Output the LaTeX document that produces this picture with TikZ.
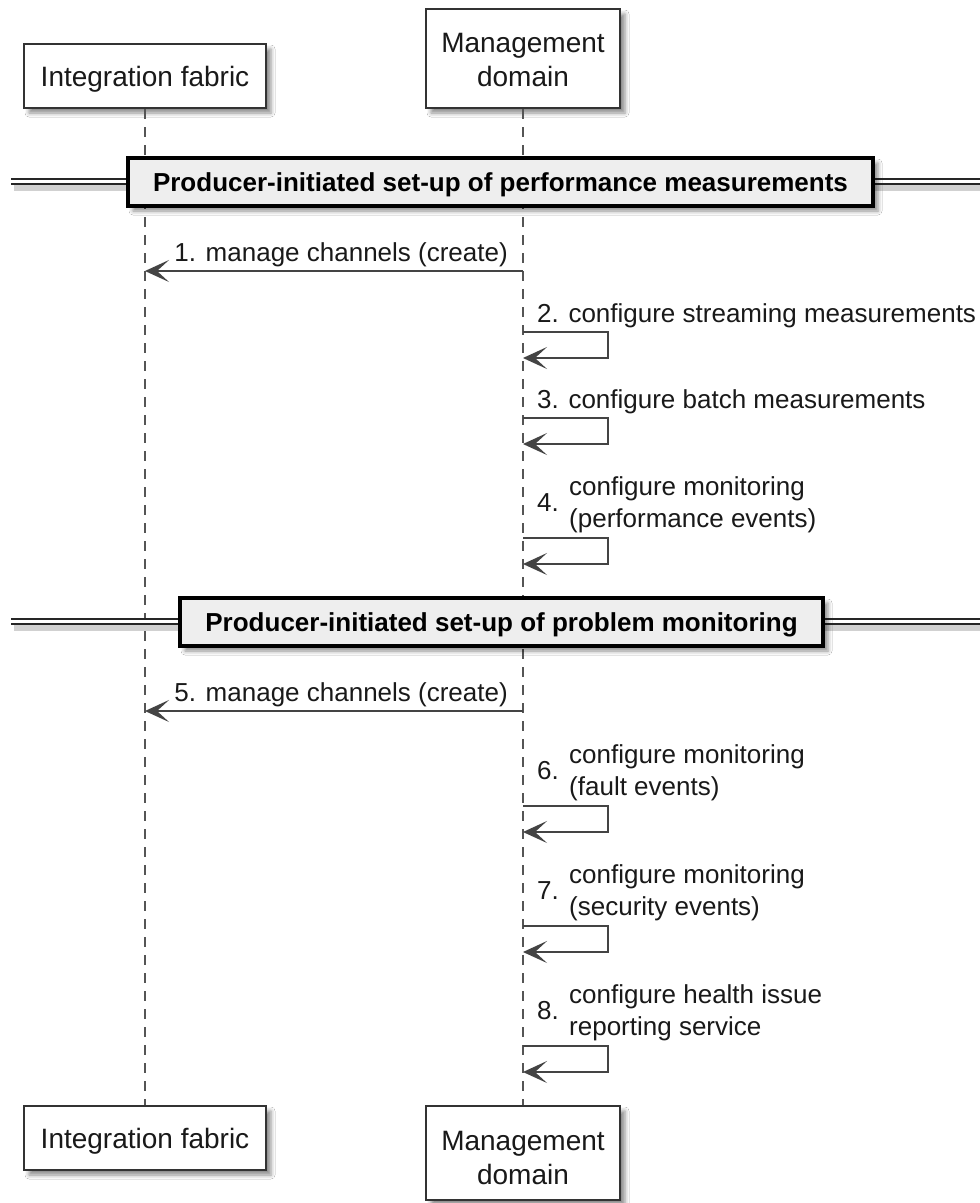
\documentclass[tikz,border=0pt]{standalone}
\usepackage{fontspec}
\setmainfont{Liberation Sans}
\usetikzlibrary{arrows.meta,shadows.blur}
\definecolor{boxline}{HTML}{333333}
\definecolor{arrowc}{HTML}{444444}
\definecolor{lifec}{HTML}{555555}
\definecolor{divfill}{HTML}{EEEEEE}
\tikzset{
  boxshadow/.style={blur shadow={shadow xshift=5pt, shadow yshift=-5pt, shadow blur radius=4pt, shadow opacity=45}},
  partbox/.style={draw=boxline, line width=2.5pt, fill=white, rectangle, inner sep=0pt, boxshadow},
  ptext/.style={font=\fontsize{28}{34}\selectfont, inner sep=0pt, anchor=base, text=black!90},
  mtext/.style={font=\fontsize{26}{32}\selectfont, inner sep=0pt, anchor=base west, text=black!90},
  divbox/.style={draw=black, line width=3.5pt, fill=divfill, rectangle, inner sep=0pt, boxshadow},
  dtext/.style={font=\bfseries\fontsize{26}{32}\selectfont, inner sep=0pt, anchor=base, text=black},
  lifeline/.style={draw=lifec, line width=1.5pt, dash pattern=on 10pt off 8pt},
  dline/.style={draw=black!85, line width=2pt, double=white, double distance=3pt},
  dshadow/.style={draw=black, line width=7pt, opacity=0.18},
  msg/.style={draw=arrowc, line width=2pt, ->}
}
\begin{document}
\begin{tikzpicture}[x=1pt,y=-1pt, >={Stealth[length=24pt 0,width=22pt 0,inset=12pt 0]}]
\fill[white] (0,0) rectangle (980,1203);
\useasboundingbox (0,0) rectangle (980,1203);

% participant boxes (top)
\node[partbox, minimum width=242pt, minimum height=64pt] (ifTop) at (145,76) {};
\node[ptext] (ifTopT) at (145,86) {Integration fabric};
\node[partbox, minimum width=194pt, minimum height=99pt] (mdTop) at (523,58.5) {};
\node[ptext] (mdTopT1) at (523,52) {Management};
\node[ptext] (mdTopT2) at (523,86) {domain};

% participant boxes (bottom)
\node[partbox, minimum width=242pt, minimum height=64pt] (ifBot) at (145,1138) {};
\node[ptext] (ifBotT) at (145,1148) {Integration fabric};
\node[partbox, minimum width=194pt, minimum height=94pt] (mdBot) at (523,1153) {};
\node[ptext] (mdBotT1) at (523,1150) {Management};
\node[ptext] (mdBotT2) at (523,1184) {domain};

% lifelines
\draw[lifeline] (ifTop.south) -- (ifBot.north);
\draw[lifeline] (mdTop.south) -- (mdBot.north);

% divider 1
\coordinate (d1L) at (11,181.5);
\coordinate (d1R) at (985,181.5);
\coordinate (d1Ls) at (14,187);
\coordinate (d1Rs) at (985,187);
\draw[dshadow] (d1Ls) -- (d1Rs);
\draw[dline] (d1L) -- (d1R);
\node[divbox, minimum width=745pt, minimum height=48pt] (div1) at (500.5,182) {};
\node[dtext] (div1T) at (500.5,191) {Producer-initiated set-up of performance measurements};

% divider 2
\coordinate (d2L) at (11,621.5);
\coordinate (d2R) at (985,621.5);
\coordinate (d2Ls) at (14,627);
\coordinate (d2Rs) at (985,627);
\draw[dshadow] (d2Ls) -- (d2Rs);
\draw[dline] (d2L) -- (d2R);
\node[divbox, minimum width=643pt, minimum height=48pt] (div2) at (501.5,622) {};
\node[dtext] (div2T) at (501.5,631) {Producer-initiated set-up of problem monitoring};

% message 1
\coordinate (md1) at (523,271);
\coordinate (if1) at (145,271);
\draw[msg] (md1) -- (if1);
\node[mtext, anchor=base east] (t1) at (508,261) {1. manage channels (create)};

% message 2
\coordinate (m2a) at (523,332);
\coordinate (m2b) at (608,332);
\coordinate (m2c) at (608,358);
\coordinate (m2d) at (523,358);
\draw[msg] (m2a) -- (m2b) -- (m2c) -- (m2d);
\node[mtext] (t2) at (537,322) {2. configure streaming measurements};

% message 3
\coordinate (m3a) at (523,418);
\coordinate (m3b) at (608,418);
\coordinate (m3c) at (608,444);
\coordinate (m3d) at (523,444);
\draw[msg] (m3a) -- (m3b) -- (m3c) -- (m3d);
\node[mtext] (t3) at (537,408) {3. configure batch measurements};

% message 4
\coordinate (m4a) at (523,538);
\coordinate (m4b) at (608,538);
\coordinate (m4c) at (608,564);
\coordinate (m4d) at (523,564);
\draw[msg] (m4a) -- (m4b) -- (m4c) -- (m4d);
\node[mtext] (n4) at (537,511) {4.};
\node[mtext] (t4a) at (569,495) {configure monitoring};
\node[mtext] (t4b) at (569,527) {(performance events)};

% message 5
\coordinate (md5) at (523,711);
\coordinate (if5) at (145,711);
\draw[msg] (md5) -- (if5);
\node[mtext, anchor=base east] (t5) at (508,701) {5. manage channels (create)};

% message 6
\coordinate (m6a) at (523,806);
\coordinate (m6b) at (608,806);
\coordinate (m6c) at (608,832);
\coordinate (m6d) at (523,832);
\draw[msg] (m6a) -- (m6b) -- (m6c) -- (m6d);
\node[mtext] (n6) at (537,779) {6.};
\node[mtext] (t6a) at (569,763) {configure monitoring};
\node[mtext] (t6b) at (569,795) {(fault events)};

% message 7
\coordinate (m7a) at (523,926);
\coordinate (m7b) at (608,926);
\coordinate (m7c) at (608,952);
\coordinate (m7d) at (523,952);
\draw[msg] (m7a) -- (m7b) -- (m7c) -- (m7d);
\node[mtext] (n7) at (537,899) {7.};
\node[mtext] (t7a) at (569,883) {configure monitoring};
\node[mtext] (t7b) at (569,915) {(security events)};

% message 8
\coordinate (m8a) at (523,1046);
\coordinate (m8b) at (608,1046);
\coordinate (m8c) at (608,1072);
\coordinate (m8d) at (523,1072);
\draw[msg] (m8a) -- (m8b) -- (m8c) -- (m8d);
\node[mtext] (n8) at (537,1019) {8.};
\node[mtext] (t8a) at (569,1003) {configure health issue};
\node[mtext] (t8b) at (569,1035) {reporting service};
\end{tikzpicture}
\end{document}
